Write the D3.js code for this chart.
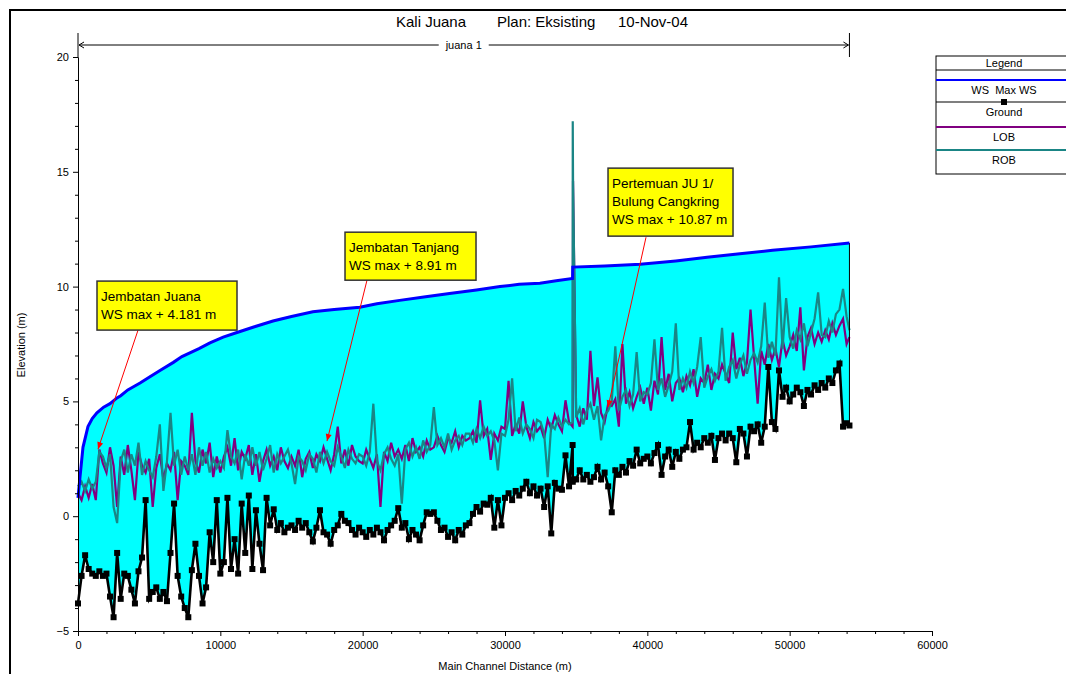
<!DOCTYPE html>
<html><head><meta charset="utf-8">
<script src="https://cdn.jsdelivr.net/npm/d3@7"></script>
<style>
body{margin:0;background:#fff;}
svg text{font-family:"Liberation Sans",Arial,sans-serif;fill:#000;}
</style>
</head><body>
<svg id="c" width="1066" height="674"></svg>
<script>
// ---------------- DATA ----------------
const stations = [
0,250,500,750,1000,1250,1500,1750,2000,2250,
2500,2750,3000,3250,3500,3750,4000,4250,4500,4750,
5000,5250,5500,5750,6000,6250,6500,6750,7000,7250,
7500,7750,8000,8250,8500,8750,9000,9250,9500,9750,
10000,10250,10500,10750,11000,11250,11500,11750,12000,12250,
12500,12750,13000,13250,13500,13750,14000,14250,14500,14750,
15000,15250,15500,15750,16000,16250,16500,16750,17000,17250,
17500,17750,18000,18250,18500,18750,19000,19250,19500,19750,
20000,20250,20500,20750,21000,21250,21500,21750,22000,22250,
22500,22750,23000,23250,23500,23750,24000,24250,24500,24750,
25000,25250,25500,25750,26000,26250,26500,26750,27000,27250,
27500,27750,28000,28250,28500,28750,29000,29250,29500,29750,
30000,30250,30500,30750,31000,31250,31500,31750,32000,32250,
32500,32750,33000,33250,33500,33750,34000,34250,34500,34750,
34760,34780,
35000,35250,35500,35750,36000,36250,36500,36750,37000,37250,
37500,37750,38000,38250,38500,38750,39000,39250,39500,39750,
40000,40250,40500,40750,41000,41250,41500,41750,42000,42250,
42500,42750,43000,43250,43500,43750,44000,44250,44500,44750,
45000,45250,45500,45750,46000,46250,46500,46750,47000,47250,
47500,47750,48000,48250,48500,48750,49000,49250,49500,49750,
50000,50250,50500,50750,51000,51250,51500,51750,52000,52250,
52500,52750,53000,53250,53500,53750,54000,
54200];

const ground = [
-3.8,-2.6,-1.7,-2.3,-2.5,-2.6,-2.4,-2.6,-2.5,-3.5,
-4.4,-1.6,-3.6,-2.5,-2.6,-3.2,-3.8,-2.4,-1.8,0.7,
-3.6,-3.3,-3.1,-3.6,-3.3,-3.7,-1.6,0.55,-2.6,-3.5,
-4.0,-4.4,-2.35,-1.2,-2.6,-3.8,-3.1,-0.7,-2.0,0.7,
-2.5,-2.0,0.8,-2.3,-1.0,-2.5,0.55,-1.6,0.9,-2.3,
0.26,-1.2,-2.35,0.8,-0.4,0.3,-0.6,-0.3,-0.7,-0.5,
-0.4,-0.6,-0.2,-0.5,-0.3,-0.7,-1.1,-0.5,0.26,-0.7,
-0.8,-1.2,-0.6,-0.4,0.1,-0.2,-0.3,-0.6,-0.8,-0.5,
-0.7,-0.9,-0.6,-0.8,-0.5,-0.7,-1.05,-0.6,-0.4,-0.2,
0.35,-0.5,-0.3,-1.0,-0.6,-0.8,-1.05,-0.4,0.17,0.1,
0.17,-0.2,-0.6,-0.5,-0.9,-0.7,-1.05,-0.6,-0.8,-0.4,
-0.3,0.1,0.4,0.2,0.55,0.5,0.8,-0.5,0.7,-0.4,
0.8,1.0,0.7,1.1,0.9,1.2,1.5,1.0,1.3,0.9,
1.2,0.4,1.3,-0.75,1.45,1.2,1.15,2.65,1.3,3.1,
1.5,1.6,
1.6,2.0,1.6,1.8,1.5,1.7,2.15,1.6,1.9,1.3,
0.17,2.0,1.8,2.15,1.9,2.4,2.2,2.9,2.3,2.5,
2.6,2.3,2.75,3.1,1.8,2.6,2.9,2.15,2.8,2.5,
2.9,3.0,4.1,2.9,3.2,3.0,3.4,3.2,3.5,2.45,
3.4,3.6,3.3,3.6,3.4,2.35,3.8,3.6,2.6,3.9,
3.7,4.0,3.2,3.9,6.5,4.1,3.8,6.35,5.2,5.6,
5.0,5.3,5.6,5.4,4.8,5.5,5.3,5.7,5.5,5.8,
5.6,6.0,5.8,6.35,6.65,3.9,4.05,
3.95];

const lob = [
1.0,0.7,1.3,0.8,1.4,0.7,2.9,2.3,1.9,3.0,
2.2,0.4,2.6,1.8,3.1,2.0,0.7,2.8,2.2,1.9,
2.5,0.4,2.1,2.7,1.6,2.3,2.0,2.8,0.7,2.4,
2.2,1.8,4.5,2.4,1.9,2.9,2.3,3.2,1.7,2.6,
1.9,2.6,3.0,2.2,3.4,2.0,2.8,2.5,3.1,1.8,
2.7,1.5,2.4,2.9,2.2,2.6,2.0,3.0,2.4,2.1,
2.6,2.2,2.9,1.7,2.5,2.8,2.1,2.7,2.4,3.0,
2.5,2.0,2.7,3.9,2.3,2.9,2.2,3.1,2.6,2.4,
2.3,2.9,2.5,2.1,2.7,0.4,2.8,2.4,3.2,2.6,
2.9,2.5,3.1,2.4,3.4,2.8,3.0,2.6,3.3,2.9,
3.0,3.5,3.1,2.8,3.4,3.2,3.7,3.0,3.5,3.3,
3.4,3.7,3.2,5.05,3.5,3.8,2.45,3.6,3.3,3.9,
3.8,5.9,3.5,4.0,3.6,5.0,3.9,3.4,4.1,3.7,
3.9,3.4,4.2,3.8,4.4,4.0,3.7,5.05,4.1,3.9,
4.2,14.6,
4.4,3.9,4.7,4.2,7.2,4.8,6.05,4.5,4.1,4.9,
4.8,5.1,3.9,7.5,4.9,5.4,4.7,5.2,5.6,4.9,
5.6,4.6,5.9,5.3,7.8,5.5,6.2,5.0,5.8,6.0,
5.4,6.1,5.7,6.4,5.2,6.0,5.8,6.6,5.5,6.2,
6.0,6.6,6.2,5.8,8.0,6.4,6.9,6.1,6.7,9.0,
6.9,4.9,7.2,6.6,7.5,6.8,7.3,6.5,7.7,7.0,
7.4,7.9,7.2,9.1,6.35,7.8,8.2,7.5,8.0,7.6,
8.1,7.7,8.4,7.9,8.3,8.6,7.5,
7.8];

const rob = [
1.3,1.5,1.1,1.6,1.2,1.5,2.8,2.6,2.1,2.7,
0.4,-0.3,2.4,2.9,1.9,2.7,2.2,3.2,1.8,2.4,
2.0,1.7,2.6,4.0,1.1,2.4,4.5,2.2,2.9,1.8,
2.6,2.0,2.7,1.8,3.0,2.2,2.8,1.9,2.5,2.1,
2.4,2.1,3.75,2.6,2.3,2.9,1.6,2.7,2.2,3.0,
2.2,2.8,2.0,2.5,3.1,1.9,2.7,2.3,2.6,2.9,
2.3,1.4,2.6,2.4,2.0,2.7,2.5,1.9,2.8,2.3,
2.8,2.4,2.2,3.0,2.6,2.1,2.9,2.5,2.3,2.7,
2.6,2.2,2.8,4.9,2.4,2.0,2.7,3.0,2.5,2.2,
2.7,0.55,2.9,3.2,2.6,3.0,2.5,3.3,2.8,3.1,
4.75,3.1,3.4,3.0,3.6,2.9,3.3,3.5,3.1,3.6,
3.6,3.2,3.8,3.4,3.9,3.5,3.7,3.3,2.0,3.6,
3.5,4.2,6.0,3.7,4.3,3.6,4.0,3.8,3.4,4.2,
4.1,3.6,1.7,4.0,3.8,4.3,3.9,4.2,4.0,4.1,
17.2,14.7,
4.3,4.7,4.0,4.6,4.9,4.2,4.8,3.3,4.4,4.6,
5.0,7.4,4.6,5.2,5.5,4.8,5.3,7.15,5.0,5.4,
5.3,5.8,7.7,5.5,6.0,5.2,5.7,6.3,8.4,5.5,
6.0,5.6,6.3,5.8,6.5,7.8,5.6,6.1,6.4,5.9,
6.3,8.2,5.9,6.5,6.8,6.0,6.6,7.0,6.2,6.8,
7.1,6.7,7.4,9.3,6.9,7.6,7.0,10.4,7.3,9.5,
7.8,7.3,8.1,7.7,8.4,7.4,8.0,8.6,9.75,7.9,
7.8,8.5,8.0,8.8,9.0,9.9,8.7,
8.1];

const wsStations = [0,140,350,700,1000,1330,1800,2250,2740,3000,3500,4360,5000,5760,6700,7300,8500,9270,10200,11170,12400,13700,15000,16500,18000,19800,21000,22600,24300,26100,28000,29650,31000,32450,33600,34750,34760,37000,39500,42000,44200,46500,48800,51500,54200];
const wsMax = [0.8,1.7,3.0,3.9,4.25,4.5,4.75,4.9,5.15,5.25,5.5,5.8,6.05,6.35,6.7,6.95,7.3,7.55,7.8,8.0,8.25,8.5,8.7,8.9,9.0,9.1,9.25,9.4,9.55,9.7,9.85,10.0,10.1,10.15,10.25,10.35,10.85,10.9,10.97,11.12,11.28,11.43,11.58,11.73,11.9];

const xTickValues = [0,10000,20000,30000,40000,50000,60000];
const xMinorTicks = [2000,4000,6000,8000,12000,14000,16000,18000,22000,24000,26000,28000,32000,34000,36000,38000,42000,44000,46000,48000,52000,54000,56000,58000];
const yTickValues = [-5,0,5,10,15,20];
const yMinorTicks = [-4,-3,-2,-1,1,2,3,4,6,7,8,9,11,12,13,14,16,17,18,19];

const titleParts = ["Kali Juana","Plan: Eksisting","10-Nov-04"];
const reachName = "juana 1";
const reachRange = [0,54200];
const legendLabels = ["WS  Max WS","Ground","LOB","ROB"];

const annoTexts = [
  ["Jembatan Juana","WS max + 4.181 m"],
  ["Jembatan Tanjang","WS max + 8.91 m"],
  ["Pertemuan JU 1/","Bulung Cangkring","WS max + 10.87 m"]
];
// anchor points in data units: box top-left, arrow start, arrow tip
const annoBoxAt = [[1335,10.24],[18760,12.37],[37238,15.16]];
const annoFrom = [[4216,8.1],[20305,10.28],[39908,12.15]];
const annoTip = [[1405,2.92],[17495,3.27],[37238,4.75]];

// ---------------- DRAW ----------------
const svg = d3.select("#c");
const x = d3.scaleLinear().domain([0,60000]).range([78,932]);
const y = d3.scaleLinear().domain([-5,20]).range([631,57]);

// outer frame
svg.append("rect").attr("x",10).attr("y",10).attr("width",1100).attr("height",700)
  .attr("fill","none").attr("stroke","#000").attr("stroke-width",2);

// title
const titleX = [396,497,618];
titleParts.forEach((t,i)=>{
  svg.append("text").attr("x",titleX[i]).attr("y",27).attr("font-size",15).text(t);
});

const line = d3.line().x(d=>x(d[0])).y(d=>y(d[1]));
const wsPts = wsStations.map((s,i)=>[s,wsMax[i]]);
const gPts = stations.map((s,i)=>[s,ground[i]]);
const lobPts = stations.map((s,i)=>[s,lob[i]]);
const robPts = stations.map((s,i)=>[s,rob[i]]);

// water fill between WS and ground
const poly = wsPts.concat(gPts.slice().reverse());
svg.append("path").attr("d",line(poly)+"Z").attr("fill","#00FFFF").attr("stroke","none");

// LOB / ROB
svg.append("path").attr("d",line(lobPts)).attr("fill","none").attr("stroke","#800080").attr("stroke-width",2.2);
svg.append("path").attr("d",line(robPts)).attr("fill","none").attr("stroke","#1A8585").attr("stroke-width",2.2);

// end line of water
svg.append("line").attr("x1",x(wsStations[wsStations.length-1])).attr("x2",x(stations[stations.length-1]))
  .attr("y1",y(wsMax[wsMax.length-1])).attr("y2",y(ground[ground.length-1]))
  .attr("stroke","#000").attr("stroke-width",1);

// ground
svg.append("path").attr("d",line(gPts)).attr("fill","none").attr("stroke","#000").attr("stroke-width",2.6);
svg.append("g").selectAll("rect").data(gPts).join("rect")
  .attr("x",d=>x(d[0])-3).attr("y",d=>y(d[1])-3).attr("width",6).attr("height",6).attr("fill","#000");

// WS
svg.append("path").attr("d",line(wsPts)).attr("fill","none").attr("stroke","#0000FF").attr("stroke-width",3);

// axes
const fs = 11;
const ax = svg.append("g").attr("transform","translate(0,631)")
  .call(d3.axisBottom(x).tickValues(xTickValues).tickFormat(d3.format("d")).tickSize(5).tickSizeOuter(0));
const axm = svg.append("g").attr("transform","translate(0,631)")
  .call(d3.axisBottom(x).tickValues(xMinorTicks).tickFormat("").tickSize(3).tickSizeOuter(0));
const ay = svg.append("g").attr("transform","translate(78,0)")
  .call(d3.axisLeft(y).tickValues(yTickValues).tickSize(5).tickSizeOuter(0));
const aym = svg.append("g").attr("transform","translate(78,0)")
  .call(d3.axisLeft(y).tickValues(yMinorTicks).tickFormat("").tickSize(3).tickSizeOuter(0));
[ax,axm,ay,aym].forEach(g=>{
  g.selectAll("text").attr("font-size",fs).attr("font-family","Liberation Sans, Arial, sans-serif").attr("fill","#000");
  g.selectAll("line,path").attr("stroke","#000");
});
ax.selectAll("text").attr("dy","0.9em");
ay.selectAll("text").attr("dx","-1px");

svg.append("text").attr("x",505).attr("y",670).attr("text-anchor","middle").attr("font-size",fs).text("Main Channel Distance (m)");
svg.append("text").attr("transform","translate(25,345) rotate(-90)").attr("text-anchor","middle").attr("font-size",fs).text("Elevation (m)");

// reach bar
const rx0 = x(reachRange[0]), rx1 = x(reachRange[1]), ry = 45;
const rg = svg.append("g").attr("stroke","#000").attr("stroke-width",1).attr("fill","none");
rg.append("line").attr("x1",rx0).attr("x2",rx0).attr("y1",33).attr("y2",57);
rg.append("line").attr("x1",rx1).attr("x2",rx1).attr("y1",33).attr("y2",57);
const rmid = (rx0+rx1)/2;
rg.append("line").attr("x1",rx0+1).attr("x2",rmid-25).attr("y1",ry).attr("y2",ry);
rg.append("line").attr("x1",rmid+25).attr("x2",rx1-1).attr("y1",ry).attr("y2",ry);
rg.append("path").attr("d",`M${rx0+6},${ry-3}L${rx0+1},${ry}L${rx0+6},${ry+3}`);
rg.append("path").attr("d",`M${rx1-6},${ry-3}L${rx1-1},${ry}L${rx1-6},${ry+3}`);
svg.append("text").attr("x",rmid).attr("y",ry+4).attr("text-anchor","middle").attr("font-size",11).text(reachName);

// annotations
const boxSize = [[140,49],[131,48],[125,68]];
annoTexts.forEach((lines,i)=>{
  const bx = x(annoBoxAt[i][0]), by = y(annoBoxAt[i][1]);
  const fx = x(annoFrom[i][0]), fy = y(annoFrom[i][1]);
  const tx = x(annoTip[i][0]), ty = y(annoTip[i][1]);
  svg.append("line").attr("x1",fx).attr("y1",fy).attr("x2",tx).attr("y2",ty).attr("stroke","#FF0000").attr("stroke-width",1);
  const ang = Math.atan2(ty-fy,tx-fx), L=7, W=3;
  const p1=[tx-L*Math.cos(ang)+W*Math.sin(ang), ty-L*Math.sin(ang)-W*Math.cos(ang)];
  const p2=[tx-L*Math.cos(ang)-W*Math.sin(ang), ty-L*Math.sin(ang)+W*Math.cos(ang)];
  svg.append("path").attr("d",`M${tx},${ty}L${p1[0]},${p1[1]}L${p2[0]},${p2[1]}Z`).attr("fill","#FF0000");
  svg.append("rect").attr("x",bx).attr("y",by).attr("width",boxSize[i][0]).attr("height",boxSize[i][1])
    .attr("fill","#FFFF00").attr("stroke","#333").attr("stroke-width",1.5);
  lines.forEach((t,j)=>{
    svg.append("text").attr("x",bx+4).attr("y",by+20+j*18).attr("font-size",13.5).text(t);
  });
});

// legend
const lgX = 936, lgY = 56, lgW = 136, lgH = 118;
svg.append("rect").attr("x",lgX).attr("y",lgY).attr("width",lgW).attr("height",lgH).attr("fill","#fff").attr("stroke","#000").attr("stroke-width",1);
svg.append("line").attr("x1",lgX).attr("x2",lgX+lgW).attr("y1",70).attr("y2",70).attr("stroke","#000");
svg.append("text").attr("x",lgX+lgW/2).attr("y",67).attr("text-anchor","middle").attr("font-size",11).text("Legend");
const lgColors = ["#0000FF","#000","#800080","#1A8585"];
const lgLineY = [80,102,127,150];
legendLabels.forEach((t,i)=>{
  svg.append("line").attr("x1",lgX).attr("x2",lgX+lgW).attr("y1",lgLineY[i]).attr("y2",lgLineY[i])
    .attr("stroke",lgColors[i]).attr("stroke-width",i===1?1.2:2);
  if(i===1) svg.append("rect").attr("x",lgX+lgW/2-3).attr("y",lgLineY[i]-3).attr("width",6).attr("height",6).attr("fill","#000");
  svg.append("text").attr("x",lgX+lgW/2).attr("y",lgLineY[i]+14).attr("text-anchor","middle").attr("font-size",11)
    .attr("xml:space","preserve").text(t);
});
</script>
</body></html>
